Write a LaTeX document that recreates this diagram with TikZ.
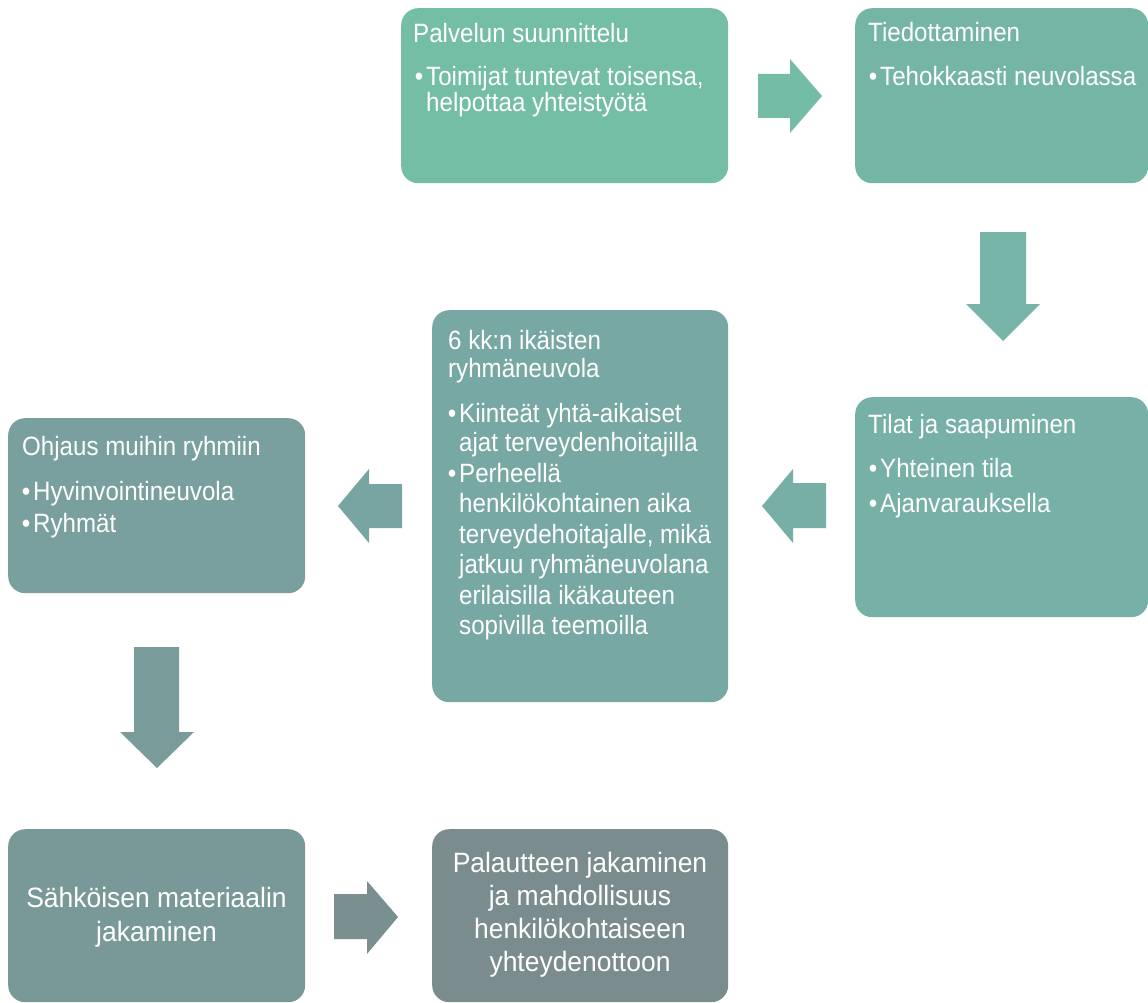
\documentclass[tikz,border=0pt]{standalone}
\usepackage{fontspec}
\setmainfont{Liberation Sans}
\newfontfamily\narrowfont[FakeStretch=0.91]{Liberation Sans}
\newfontfamily\widerfont[FakeStretch=0.945]{Liberation Sans}
\definecolor{c1}{RGB}{117,190,166}
\definecolor{c2}{RGB}{117,181,166}
\definecolor{c3}{RGB}{119,176,166}
\definecolor{c4}{RGB}{120,168,163}
\definecolor{c5}{RGB}{121,160,158}
\definecolor{c6}{RGB}{121,153,152}
\definecolor{c7}{RGB}{122,140,141}
\definecolor{a1}{RGB}{117,188,166}
\definecolor{a2}{RGB}{117,180,166}
\definecolor{a3}{RGB}{119,174,165}
\definecolor{a4}{RGB}{120,164,161}
\definecolor{a5}{RGB}{121,156,155}
\definecolor{a6}{RGB}{122,143,144}
\tikzset{
  boxnode/.style={rectangle, rounded corners=17pt, draw=none, inner sep=0pt, anchor=north west},
  txtbase/.style={inner sep=0pt, text=white, font=\narrowfont\fontsize{26.5}{30}\selectfont},
  txt/.style={txtbase, anchor=base west},
  ctxt/.style={inner sep=0pt, text=white, font=\widerfont\fontsize{28}{32}\selectfont, anchor=base},
  bul/.style={txtbase, anchor=base east, xshift=-2.5pt},
}
\begin{document}
\begin{tikzpicture}[x=1pt,y=-1pt]
\useasboundingbox (0,0) rectangle (1148,1003);
\fill[white] (0,0) rectangle (1148,1003);
% boxes
\node[boxnode, fill=c1, minimum width=327, minimum height=175] (b1) at (401,8) {};
\node[boxnode, fill=c2, minimum width=293, minimum height=175] (b2) at (855,8) {};
\node[boxnode, fill=c3, minimum width=293, minimum height=220] (b3) at (855,397) {};
\node[boxnode, fill=c4, minimum width=296, minimum height=392] (b4) at (432,310) {};
\node[boxnode, fill=c5, minimum width=297, minimum height=175] (b5) at (8,418) {};
\node[boxnode, fill=c6, minimum width=297, minimum height=173] (b6) at (8,829) {};
\node[boxnode, fill=c7, minimum width=296, minimum height=173] (b7) at (432,829) {};
% block arrows
\fill[a1] (758,74) -- (790,74) -- (790,59) -- (822,96) -- (790,133) -- (790,118) -- (758,118) -- cycle;
\fill[a2] (980,232) -- (1026,232) -- (1026,304) -- (1040,304) -- (1003,341) -- (966,304) -- (980,304) -- cycle;
\fill[a3] (826,483) -- (793,483) -- (793,469) -- (762,506) -- (793,543) -- (793,528) -- (826,528) -- cycle;
\fill[a4] (402,484) -- (369,484) -- (369,469) -- (338,506) -- (369,543) -- (369,528) -- (402,528) -- cycle;
\fill[a5] (134,647) -- (179,647) -- (179,732) -- (194,732) -- (157,768) -- (120,732) -- (134,732) -- cycle;
\fill[a6] (334,894) -- (367,894) -- (367,881) -- (398,917) -- (367,954) -- (367,939) -- (334,939) -- cycle;
% box 1
\node[txt] (t1a) at (413,43) {Palvelun suunnittelu};
\node[txt] (t1b) at (426,86) {Toimijat tuntevat toisensa,};
\node[bul] (t1bb) at (t1b.base west) {•};
\node[txt] (t1c) at (426,112) {helpottaa yhteistyötä};
% box 2
\node[txt] (t2a) at (868,42) {Tiedottaminen};
\node[txt] (t2b) at (880,86) {Tehokkaasti neuvolassa};
\node[bul] (t2bb) at (t2b.base west) {•};
% box 3
\node[txt] (t3a) at (868,433) {Tilat ja saapuminen};
\node[txt] (t3b) at (880,477) {Yhteinen tila};
\node[bul] (t3bb) at (t3b.base west) {•};
\node[txt] (t3c) at (880,512) {Ajanvarauksella};
\node[bul] (t3cb) at (t3c.base west) {•};
% box 4
\node[txt] (t4a) at (448,349) {6 kk:n ikäisten};
\node[txt] (t4b) at (448,377) {ryhmäneuvola};
\node[txt] (t4c) at (459,422) {Kiinteät yhtä-aikaiset};
\node[bul] (t4cb) at (t4c.base west) {•};
\node[txt] (t4d) at (459,451) {ajat terveydenhoitajilla};
\node[txt] (t4e) at (459,482) {Perheellä};
\node[bul] (t4eb) at (t4e.base west) {•};
\node[txt] (t4f) at (459,512.5) {henkilökohtainen aika};
\node[txt] (t4g) at (459,543) {terveydehoitajalle, mikä};
\node[txt] (t4h) at (459,573.5) {jatkuu ryhmäneuvolana};
\node[txt] (t4i) at (459,604) {erilaisilla ikäkauteen};
\node[txt] (t4j) at (459,634) {sopivilla teemoilla};
% box 5
\node[txt] (t5a) at (22,455) {Ohjaus muihin ryhmiin};
\node[txt] (t5b) at (33,500) {Hyvinvointineuvola};
\node[bul] (t5bb) at (t5b.base west) {•};
\node[txt] (t5c) at (33,532) {Ryhmät};
\node[bul] (t5cb) at (t5c.base west) {•};
% box 6
\node[ctxt] (t6a) at (156.5,907) {Sähköisen materiaalin};
\node[ctxt] (t6b) at (156.5,941) {jakaminen};
% box 7
\node[ctxt] (t7a) at (580,872) {Palautteen jakaminen};
\node[ctxt] (t7b) at (580,905) {ja mahdollisuus};
\node[ctxt] (t7c) at (580,938.5) {henkilökohtaiseen};
\node[ctxt] (t7d) at (580,971) {yhteydenottoon};
\end{tikzpicture}
\end{document}
